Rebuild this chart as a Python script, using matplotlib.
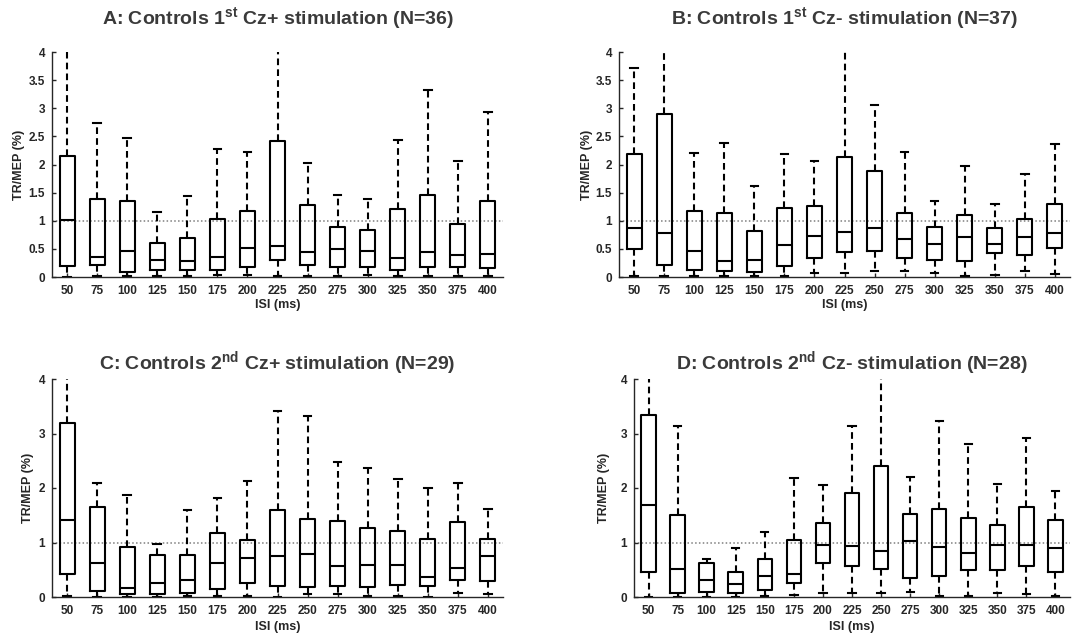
import matplotlib

matplotlib.use("Agg")
import matplotlib.pyplot as plt

plt.rcParams.update(
    {
        "font.family": "Liberation Sans",
        "font.weight": "bold",
        "mathtext.fontset": "custom",
        "mathtext.rm": "Liberation Sans:bold",
        "mathtext.bf": "Liberation Sans:bold",
        "mathtext.it": "Liberation Sans:bold",
    }
)

INK = "#262626"

# ---- data: box-plot statistics -------------------------------------------
isi = [50, 75, 100, 125, 150, 175, 200, 225, 250, 275, 300, 325, 350, 375, 400]

# A: Controls 1st Cz+ (N=36)
a_lo = [0.00, 0.02, 0.01, 0.02, 0.02, 0.03, 0.03, 0.02, 0.02, 0.02, 0.04, 0.02, 0.02, 0.02, 0.02]
a_q1 = [0.20, 0.21, 0.09, 0.13, 0.13, 0.12, 0.17, 0.31, 0.21, 0.17, 0.17, 0.13, 0.18, 0.18, 0.16]
a_med = [1.02, 0.35, 0.47, 0.30, 0.28, 0.36, 0.52, 0.56, 0.44, 0.50, 0.47, 0.33, 0.45, 0.39, 0.41]
a_q3 = [2.16, 1.38, 1.36, 0.61, 0.69, 1.04, 1.18, 2.42, 1.28, 0.89, 0.84, 1.21, 1.46, 0.95, 1.36]
a_hi = [4.50, 2.73, 2.48, 1.16, 1.44, 2.27, 2.22, 4.50, 2.03, 1.46, 1.39, 2.44, 3.33, 2.07, 2.93]

# B: Controls 1st Cz- (N=37)
b_lo = [0.02, 0.01, 0.01, 0.02, 0.01, 0.02, 0.08, 0.08, 0.10, 0.10, 0.08, 0.02, 0.03, 0.10, 0.05]
b_q1 = [0.49, 0.21, 0.12, 0.11, 0.09, 0.20, 0.33, 0.44, 0.47, 0.34, 0.30, 0.28, 0.43, 0.39, 0.51]
b_med = [0.88, 0.78, 0.47, 0.28, 0.30, 0.57, 0.73, 0.80, 0.87, 0.67, 0.59, 0.72, 0.59, 0.71, 0.79]
b_q3 = [2.19, 2.90, 1.18, 1.13, 0.82, 1.23, 1.26, 2.13, 1.88, 1.14, 0.89, 1.10, 0.88, 1.04, 1.30]
b_hi = [3.72, 4.50, 2.21, 2.39, 1.62, 2.19, 2.06, 4.50, 3.06, 2.22, 1.35, 1.97, 1.30, 1.84, 2.36]

# C: Controls 2nd Cz+ (N=29)
c_lo = [0.01, 0.00, 0.00, 0.00, 0.01, 0.02, 0.01, 0.00, 0.05, 0.05, 0.01, 0.01, 0.00, 0.07, 0.05]
c_q1 = [0.43, 0.11, 0.05, 0.06, 0.07, 0.15, 0.26, 0.20, 0.18, 0.20, 0.18, 0.22, 0.20, 0.31, 0.30]
c_med = [1.42, 0.63, 0.16, 0.26, 0.31, 0.63, 0.71, 0.76, 0.78, 0.57, 0.59, 0.59, 0.37, 0.54, 0.75]
c_q3 = [3.20, 1.65, 0.91, 0.77, 0.77, 1.17, 1.04, 1.60, 1.44, 1.39, 1.27, 1.21, 1.06, 1.38, 1.06]
c_hi = [4.30, 2.09, 1.87, 0.97, 1.60, 1.81, 2.12, 3.42, 3.32, 2.48, 2.37, 2.16, 2.00, 2.10, 1.61]

# D: Controls 2nd Cz- (N=28)
d_lo = [0.00, 0.00, 0.00, 0.00, 0.02, 0.03, 0.07, 0.07, 0.07, 0.10, 0.01, 0.01, 0.07, 0.05, 0.01]
d_q1 = [0.45, 0.08, 0.10, 0.07, 0.12, 0.25, 0.63, 0.56, 0.51, 0.35, 0.39, 0.50, 0.50, 0.56, 0.45]
d_med = [1.69, 0.51, 0.31, 0.23, 0.39, 0.42, 0.95, 0.94, 0.85, 1.03, 0.91, 0.80, 0.96, 0.96, 0.89]
d_q3 = [3.34, 1.51, 0.62, 0.46, 0.70, 1.04, 1.35, 1.91, 2.41, 1.52, 1.61, 1.45, 1.32, 1.66, 1.41]
d_hi = [4.50, 3.13, 0.70, 0.90, 1.20, 2.18, 2.06, 3.13, 4.50, 2.21, 3.23, 2.80, 2.08, 2.92, 1.95]

panels = [
    ("A", "1", "st", "+", 36, a_lo, a_q1, a_med, a_q3, a_hi),
    ("B", "1", "st", "-", 37, b_lo, b_q1, b_med, b_q3, b_hi),
    ("C", "2", "nd", "+", 29, c_lo, c_q1, c_med, c_q3, c_hi),
    ("D", "2", "nd", "-", 28, d_lo, d_q1, d_med, d_q3, d_hi),
]

# ---- layout (pixel boxes measured on the 1072x637 original) --------------
W, H = 1072, 637
boxes_px = [(52, 503, 52, 277), (619, 1070, 52, 277), (52, 503, 379, 597), (634, 1070, 379, 597)]
ylab_x = [-0.060, -0.058, -0.040, -0.055]
xlab_y = [-0.098, -0.098, -0.11, -0.11]

fig = plt.figure(figsize=(W / 100, H / 100), dpi=100)
fig.patch.set_facecolor("white")

for (letter, num, sup, sign, n, lo, q1, med, q3, hi), (l, r, t, b), yx, xy in zip(
    panels, boxes_px, ylab_x, xlab_y
):
    ax = fig.add_axes([l / W, 1 - b / H, (r - l) / W, (b - t) / H])
    stats = [
        dict(whislo=w0, q1=k1, med=m, q3=k3, whishi=w1)
        for w0, k1, m, k3, w1 in zip(lo, q1, med, q3, hi)
    ]
    pos = list(range(1, len(isi) + 1))
    ax.axhline(1, color="#7f7f7f", ls=(0, (1, 1.5)), lw=1.1, zorder=1)
    ax.bxp(
        stats,
        positions=pos,
        widths=0.5,
        capwidths=0.25,
        showfliers=False,
        boxprops=dict(color="black", lw=1.5),
        medianprops=dict(color="black", lw=1.5),
        whiskerprops=dict(color="black", lw=1.5, ls=(0, (3.2, 2.0))),
        capprops=dict(color="black", lw=1.5),
        zorder=3,
    )
    ax.set_xlim(0.5, len(isi) + 0.5)
    ax.set_ylim(0, 4)
    ax.set_xticks(pos)
    ax.set_xticklabels([str(v) for v in isi])
    if letter in ("A", "B"):
        ax.set_yticks([0, 0.5, 1, 1.5, 2, 2.5, 3, 3.5, 4])
        ax.set_yticklabels(["0", "0.5", "1", "1.5", "2", "2.5", "3", "3.5", "4"])
    else:
        ax.set_yticks([0, 1, 2, 3, 4])
    for s in ("top", "right"):
        ax.spines[s].set_visible(False)
    for s in ("left", "bottom"):
        ax.spines[s].set_color(INK)
        ax.spines[s].set_linewidth(1.0)
        ax.spines[s].set_zorder(4)
    ax.tick_params(direction="in", length=3, width=1.0, colors=INK, labelsize=8.5, pad=5)
    ax.tick_params(axis="x", pad=6)
    ax.set_ylabel("TR/MEP (%)", fontsize=9, fontweight="bold", color=INK)
    ax.yaxis.set_label_coords(yx, 0.5)
    ax.set_xlabel("ISI (ms)", fontsize=9, fontweight="bold", color=INK)
    ax.xaxis.set_label_coords(0.5, xy)
    ax.set_title(
        f"{letter}: Controls {num}$^{{\\mathbf{{{sup}}}}}$ Cz{sign} stimulation (N={n})",
        fontsize=14,
        fontweight="bold",
        color="#3a3a3a",
        pad=20 if letter in ("A", "B") else 7,
    )

fig.savefig("out.png", dpi=100, facecolor="white")
